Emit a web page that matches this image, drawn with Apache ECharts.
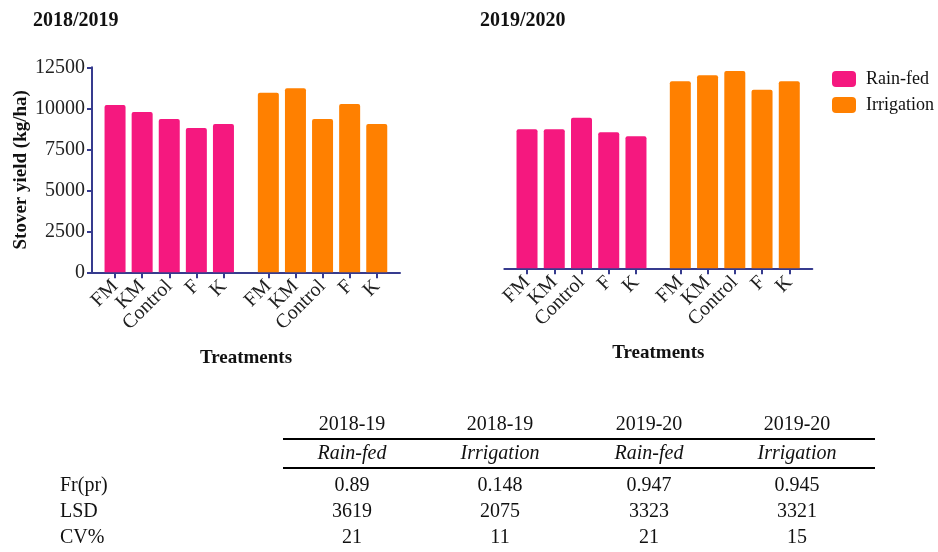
<!DOCTYPE html>
<html>
<head>
<meta charset="utf-8">
<script src="https://cdn.jsdelivr.net/npm/echarts@6/dist/echarts.min.js"></script>
<style>
  html, body { margin: 0; padding: 0; background: #fff; }
  #main { width: 938px; height: 552px; }
</style>
</head>
<body>
<div id="main"></div>
<script>
;(function () {
    "use strict";

    // --- data ---
    var treatments = ["FM", "KM", "Control", "F", "K"];
    var yTicks = [0, 2500, 5000, 7500, 10000, 12500];

    var rain1819 = [10200, 9780, 9350, 8800, 9050];
    var irri1819 = [10950, 11220, 9350, 10260, 9050];
    var rain1920 = [8480, 8480, 9180, 8290, 8050];
    var irri1920 = [11400, 11770, 12030, 10890, 11400];

    var tableSeasons = ["2018-19", "2018-19", "2019-20", "2019-20"];
    var tableRegimes = ["Rain-fed", "Irrigation", "Rain-fed", "Irrigation"];
    var rowNames = ["Fr(pr)", "LSD", "CV%"];
    var frpr = ["0.89", "0.148", "0.947", "0.945"];
    var lsd = ["3619", "2075", "3323", "3321"];
    var cv = ["21", "11", "21", "15"];

    var PINK = "#F5187F";
    var ORANGE = "#FF8000";
    var NAVY = "#363B8E";
    var FONT = "Liberation Serif";

    const chart = echarts.init(document.getElementById("main"));

    // one panel = an axis-holder grid plus one grid per water regime
    function panelGrids(axisLeft, bandLeft1, bandLeft2, bandW, top) {
        return [
            { left: axisLeft, top: top, width: 308, height: 205 },
            { left: bandLeft1, top: top, width: bandW, height: 205 },
            { left: bandLeft2, top: top, width: bandW, height: 205 }
        ];
    }

    var grids = []
        .concat(panelGrids(92, 101.5, 254.8, 135.5, 67.3))
        .concat(panelGrids(504.3, 513.4, 666.7, 136.2, 63.3));

    var xAxes = [], yAxes = [];
    for (let g = 0; g < 6; g++) {
        const holder = g % 3 === 0;
        const leftPanel = g < 3;
        if (holder) {
            xAxes.push({
                gridIndex: g, type: "value", min: 0, max: 1,
                axisLine: { show: true, lineStyle: { color: NAVY, width: 2 } },
                axisTick: { show: false }, axisLabel: { show: false }, splitLine: { show: false },
                name: "Treatments", nameLocation: "middle", nameGap: leftPanel ? 76 : 75,
                nameTextStyle: { fontFamily: FONT, fontWeight: "bold", fontSize: 19, color: "#111" }
            });
            yAxes.push({
                gridIndex: g, type: "value", min: yTicks[0], max: yTicks[yTicks.length - 1], interval: yTicks[1] - yTicks[0],
                show: leftPanel,
                axisLine: { show: true, lineStyle: { color: NAVY, width: 2 } },
                axisTick: { show: true, length: 5, lineStyle: { color: NAVY, width: 2 } },
                axisLabel: {
                    fontFamily: FONT, fontSize: 20, color: "#222", margin: 7,
                    formatter: function (v) { return String(v); }
                },
                splitLine: { show: false },
                name: "Stover yield (kg/ha)", nameLocation: "middle", nameGap: 61,
                nameTextStyle: { fontFamily: FONT, fontWeight: "bold", fontSize: 19, color: "#111" }
            });
        } else {
            xAxes.push({
                gridIndex: g, type: "category", data: treatments,
                axisLine: { show: false },
                axisTick: { show: true, alignWithLabel: true, length: 6, lineStyle: { color: NAVY, width: 2 } },
                axisLabel: { rotate: 45, fontFamily: FONT, fontSize: 20, color: "#222", margin: 11, interval: 0 }
            });
            yAxes.push({ gridIndex: g, type: "value", min: 0, max: 12500, show: false, splitLine: { show: false } });
        }
    }

    function barSeries(name, data, grid, color) {
        return {
            name: name, type: "bar", data: data,
            xAxisIndex: grid, yAxisIndex: grid,
            barWidth: 21,
            itemStyle: { color: color, borderRadius: [2, 2, 0, 0] }
        };
    }

    var series = [
        barSeries("Rain-fed", rain1819, 1, PINK),
        barSeries("Irrigation", irri1819, 2, ORANGE),
        barSeries("Rain-fed", rain1920, 4, PINK),
        barSeries("Irrigation", irri1920, 5, ORANGE)
    ];

    // statistics table underneath, drawn as graphic text
    var colX = [352, 500, 649, 797];
    var rowY = [486, 512, 538];
    var rows = [frpr, lsd, cv];
    var graphics = [
        { type: "line", shape: { x1: 283, y1: 439, x2: 875, y2: 439 }, style: { stroke: "#000", lineWidth: 2 } },
        { type: "line", shape: { x1: 283, y1: 468, x2: 875, y2: 468 }, style: { stroke: "#000", lineWidth: 2 } }
    ];
    function txt(x, y, s, align, italic) {
        return {
            type: "text", x: x, y: y,
            style: {
                text: s, fill: "#111", align: align, verticalAlign: "middle",
                font: (italic ? "italic " : "") + "20px '" + FONT + "'"
            }
        };
    }
    tableSeasons.forEach(function (s, i) { graphics.push(txt(colX[i], 425, s, "center")); });
    tableRegimes.forEach(function (s, i) { graphics.push(txt(colX[i], 454, s, "center", true)); });
    rowNames.forEach(function (r, j) {
        graphics.push(txt(60, rowY[j], r, "left"));
        rows[j].forEach(function (v, i) { graphics.push(txt(colX[i], rowY[j], v, "center")); });
    });

    let options = {
        animation: false,
        title: [
            { text: "2018/2019", left: 28, top: 6, textStyle: { fontFamily: FONT, fontWeight: "bold", fontSize: 20, color: "#111" } },
            { text: "2019/2020", left: 475, top: 6, textStyle: { fontFamily: FONT, fontWeight: "bold", fontSize: 20, color: "#111" } }
        ],
        legend: {
            data: ["Rain-fed", "Irrigation"],
            orient: "vertical", left: 827, top: 65,
            itemWidth: 24, itemHeight: 16, itemGap: 8,
            icon: "roundRect",
            textStyle: { fontFamily: FONT, fontSize: 18, color: "#111", padding: [0, 0, 0, 5] }
        },
        grid: grids,
        xAxis: xAxes,
        yAxis: yAxes,
        series: series,
        graphic: graphics
    };
    chart.setOption(options);
})();
</script>
</body>
</html>
